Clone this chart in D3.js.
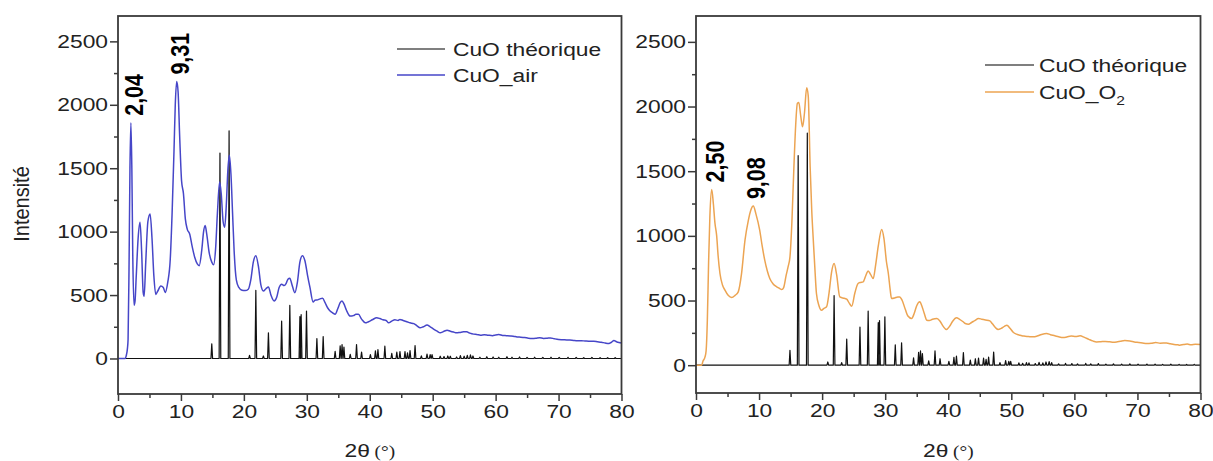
<!DOCTYPE html>
<html><head><meta charset="utf-8">
<script src="https://cdn.jsdelivr.net/npm/d3@7"></script>
<style>body{margin:0;background:#fff}</style>
</head><body>
<svg id="c" width="1213" height="461"></svg>
<script>
// ---------------- DATA ----------------
const xTicks = [0,10,20,30,40,50,60,70,80];
const xMinor = [5,15,25,35,45,55,65,75];
const yTicks = [0,500,1000,1500,2000,2500];
const yMinor = [250,750,1250,1750,2250];

// CuO théorique: peak positions (2θ) and intensities
const theoPos = [14.9,16.2,17.65,20.9,21.9,23.1,23.9,26.0,27.3,28.9,29.1,29.95,31.6,32.6,34.5,35.3,35.6,35.9,36.9,37.9,38.7,40.1,40.9,41.3,42.4,43.5,44.3,44.8,45.6,46.0,46.4,47.2,48.2,49.1,49.6,49.9,51.2,51.8,52.4,52.8,53.8,54.4,55.0,55.5,56.0,56.4,57.5,58.6,59.6,60.5,61.8,62.6,63.8,65.0,66.2,67.5,68.8,70.1,71.5,72.8,74.0,75.3,76.6,77.8,79.0];
const theoInt = [115,1620,1795,25,538,20,202,295,419,330,345,374,157,173,57,100,110,90,33,110,50,30,60,70,97,40,50,55,55,45,62,102,20,35,30,30,18,15,20,18,12,22,18,25,28,20,10,14,12,10,14,10,12,8,10,8,10,8,9,8,7,8,7,6,7];

// CuO_air
const airX = [0,1.1,1.3,1.5,1.6,1.75,1.9,2.05,2.2,2.35,2.55,2.7,2.9,3.2,3.5,3.75,4.0,4.15,4.4,4.75,5.1,5.4,5.7,6.0,6.3,6.8,7.2,7.5,7.9,8.3,8.6,8.9,9.1,9.33,9.55,9.8,10.1,10.4,10.7,11.0,11.4,11.8,12.2,12.6,12.9,13.3,13.6,13.85,14.1,14.5,14.9,15.2,15.5,15.8,16.15,16.4,16.7,16.95,17.2,17.45,17.7,17.95,18.2,18.45,18.8,19.2,19.7,20.2,20.7,21.1,21.5,21.9,22.3,22.7,23.1,23.5,23.9,24.3,24.8,25.2,25.6,26.0,26.4,26.7,27.0,27.3,27.6,28.1,28.5,28.9,29.3,29.7,30.1,30.5,31.0,31.3,31.6,32.1,32.5,32.9,33.3,33.7,34.1,34.5,34.9,35.3,35.6,35.9,36.3,36.9,37.4,37.8,38.2,38.7,39.3,39.8,40.4,41.1,41.6,42.1,42.6,43.0,43.5,44.0,44.5,44.8,45.3,45.9,46.4,47.0,47.5,48.0,48.5,49.1,49.6,50.2,50.7,51.2,51.7,52.3,52.8,53.3,53.8,54.3,54.9,55.4,55.9,56.5,57.0,57.6,58.2,58.8,59.5,60.0,60.5,61.1,61.7,62.3,62.8,63.4,64.0,64.6,65.2,65.8,66.4,67.0,67.6,68.2,68.7,69.3,70.0,70.7,71.3,71.8,72.4,73.0,73.6,74.2,74.8,75.6,76.2,76.8,77.4,78.0,78.4,78.8,79.2,79.6,80];
const airY = [0,0,20,80,150,700,1500,1858,1500,800,420,450,650,950,1074,850,520,490,750,1080,1140,950,650,505,530,572,560,520,600,780,1150,1640,2000,2183,2100,1750,1400,1300,1100,1020,980,880,796,745,731,850,1000,1048,980,830,760,739,860,1150,1391,1300,1080,1034,1200,1480,1602,1450,1150,850,620,560,538,535,546,620,760,810,730,580,532,550,564,500,453,480,560,586,575,590,625,633,590,519,600,760,810,770,660,560,445,460,461,470,475,440,400,374,360,348,390,440,453,430,380,334,338,348,348,310,281,290,305,321,315,305,300,281,295,305,300,308,300,290,281,275,258,242,250,263,250,230,215,202,212,223,215,208,202,205,210,210,200,192,190,184,188,184,180,186,189,182,180,178,176,170,168,165,160,158,160,164,158,160,162,156,150,148,146,145,142,140,140,138,136,136,132,128,122,118,128,142,132,126,123];

// CuO_O2
const o2X = [0,0.9,1.1,1.43,1.6,1.8,2.0,2.2,2.49,2.75,3.0,3.28,3.5,3.8,4.2,4.6,5.1,5.66,6.2,6.7,7.2,7.77,8.3,8.7,9.09,9.5,10.1,10.5,10.9,11.3,11.7,12.2,12.8,13.2,13.6,13.9,14.3,14.6,14.9,15.2,15.5,15.8,16.07,16.3,16.6,16.9,17.2,17.55,17.8,18.1,18.35,18.6,18.85,19.1,19.5,19.9,20.3,20.7,21.1,21.5,21.9,22.3,22.8,23.3,23.9,24.3,24.7,25.2,25.7,26.1,26.5,26.9,27.3,27.7,28.1,28.5,28.9,29.44,29.8,30.2,30.5,30.8,31.0,31.5,32.0,32.3,32.7,33.2,33.6,34.2,34.6,35.0,35.5,35.8,36.2,36.6,37.0,37.5,38.2,38.7,39.2,39.7,40.2,40.7,41.3,41.8,42.3,42.7,43.2,43.7,44.2,44.8,45.3,45.9,46.6,47.0,47.5,47.9,48.4,48.9,49.3,49.8,50.3,50.8,51.4,52.0,52.7,53.5,54.1,54.8,55.6,56.2,56.9,57.5,58.2,58.8,59.5,60.2,60.9,61.6,62.3,62.9,63.5,64.2,64.9,65.6,66.2,66.7,67.3,68.0,68.8,69.5,70.2,70.8,71.5,72.2,72.9,73.6,74.6,75.2,75.8,76.4,76.7,77.3,77.9,78.5,79.2,80];
const o2Y = [0,0,30,64,110,350,800,1150,1359,1250,1100,1000,850,709,620,580,540,523,540,567,700,967,1120,1200,1230,1170,1044,920,812,730,670,630,606,595,585,600,696,760,838,1100,1500,1850,2024,2031,1930,1843,1950,2145,2080,1534,1200,967,750,554,460,425,440,451,560,720,786,700,528,520,510,480,456,560,632,640,644,690,729,700,670,780,920,1049,980,800,709,580,516,520,528,528,500,430,380,361,400,460,490,460,400,348,345,355,361,340,300,276,300,340,366,355,338,322,317,330,345,361,356,350,343,320,290,276,285,300,309,285,255,240,232,225,222,219,225,238,245,236,228,220,214,218,225,222,227,215,200,188,180,182,184,181,178,180,185,190,188,180,176,172,168,170,175,170,172,166,160,158,155,160,163,158,161,160];

const airLabels = ["2,04","9,31"], airLabelX = [2.04,9.31], airLabelY = [1858,2183];
const o2Labels = ["2,50","9,08"], o2LabelX = [2.49,9.09], o2LabelY = [1359,1230];

// --------------- DRAWING ---------------
const svg = d3.select("#c");
const FONT = "'Liberation Sans', Arial, sans-serif";
const SX = 1.2;           // horizontal stretch of the original figure's text
const AXC = "#3a3a3a";
const TXC = "#222";

// theoretical profile points (baseline + narrow sticks)
function theoPoints() {
  const pts = [[0,0]];
  theoPos.forEach((p,i)=>{ pts.push([p-0.13,0],[p,theoInt[i]],[p+0.13,0]); });
  pts.push([80,0]);
  return pts;
}

function stretchedText(parent, x, y, opts) {
  const g = parent.append("g").attr("transform", `translate(${x},${y}) scale(${opts.sx||SX},1)` + (opts.rot?` rotate(${opts.rot})`:""));
  const t = g.append("text").attr("font-family", opts.family||FONT).attr("font-size", opts.size||19)
    .attr("fill", opts.fill||TXC).attr("text-anchor", opts.anchor||"start")
    .attr("font-weight", opts.weight||"normal");
  return t;
}

function panel(cfg) {
  const x = d3.scaleLinear().domain([0,80]).range(cfg.xr);
  const y = d3.scaleLinear().domain(cfg.yd).range(cfg.yr);
  const g = svg.append("g");
  const id = "clip"+cfg.id;
  svg.append("defs").append("clipPath").attr("id", id).append("rect")
    .attr("x", cfg.xr[0]).attr("y", cfg.yr[1])
    .attr("width", cfg.xr[1]-cfg.xr[0]).attr("height", cfg.yr[0]-cfg.yr[1]);
  const plot = g.append("g").attr("clip-path", `url(#${id})`);
  const lineLin = d3.line().x(d=>x(d[0])).y(d=>y(d[1]));
  const lineSm = d3.line().x(d=>x(d[0])).y(d=>y(d[1])).curve(d3.curveMonotoneX);
  plot.append("path").datum(theoPoints()).attr("d", lineLin)
    .attr("fill","none").attr("stroke","#111").attr("stroke-width",1.2).attr("stroke-linejoin","round");
  plot.append("path").datum(d3.zip(cfg.ex, cfg.ey)).attr("d", lineSm)
    .attr("fill","none").attr("stroke",cfg.color).attr("stroke-width",1.5).attr("stroke-linejoin","round");

  // frame
  g.append("rect").attr("x", cfg.xr[0]).attr("y", cfg.yr[1])
    .attr("width", cfg.xr[1]-cfg.xr[0]).attr("height", cfg.yr[0]-cfg.yr[1])
    .attr("fill","none").attr("stroke",AXC).attr("stroke-width",1.8);

  // x axis
  const xa = g.append("g").attr("transform",`translate(0,${cfg.yr[0]})`)
    .call(d3.axisBottom(x).tickValues(xTicks).tickSize(7).tickPadding(4).tickFormat(d3.format("d")));
  g.append("g").attr("transform",`translate(0,${cfg.yr[0]})`)
    .call(d3.axisBottom(x).tickValues(xMinor).tickSize(4).tickFormat(""));
  // y axis
  const ya = g.append("g").attr("transform",`translate(${cfg.xr[0]},0)`)
    .call(d3.axisLeft(y).tickValues(yTicks).tickSize(8).tickPadding(2).tickFormat(d3.format("d")));
  g.append("g").attr("transform",`translate(${cfg.xr[0]},0)`)
    .call(d3.axisLeft(y).tickValues(yMinor).tickSize(4).tickFormat(""));
  g.selectAll(".domain").remove();
  g.selectAll(".tick line").attr("stroke",AXC).attr("stroke-width",1.5);
  g.selectAll(".tick text").attr("font-family",FONT).attr("font-size",19).attr("fill",TXC);
  xa.selectAll(".tick text").attr("transform",`scale(${SX},1)`);
  ya.selectAll(".tick text").attr("x", -10/SX).attr("transform",`scale(${SX},1)`);

  // x title
  const t = stretchedText(g, (cfg.xr[0]+cfg.xr[1])/2, 457, {anchor:"middle"});
  t.append("tspan").attr("font-size",19).text("2θ");
  t.append("tspan").attr("font-family","'Liberation Serif', 'Times New Roman', serif").attr("font-size",16).text(" (°)");

  // legend
  const L = cfg.legend;
  L.names.forEach((nm,i)=>{
    const ly = L.y[i];
    g.append("line").attr("x1",L.x1).attr("x2",L.x2).attr("y1",ly).attr("y2",ly)
      .attr("stroke", i===0 ? "#555" : cfg.color).attr("stroke-width",1.6);
    const tt = stretchedText(g, L.tx, ly+7, {size:19});
    if (nm.sub) {
      tt.append("tspan").text(nm.text);
      tt.append("tspan").attr("font-size",13).attr("dy",6).text(nm.sub);
    } else tt.text(nm.text);
  });

  // peak annotations
  cfg.labels.forEach((lb,i)=>{
    const px = x(cfg.labelX[i]) + 3 + 9, py = y(cfg.labelY[i]) - 7;
    stretchedText(g, px, py, {size:21.5, weight:"bold", rot:-90, fill:"#000"}).text(lb);
  });
  return {x,y};
}

panel({id:"a", xr:[118,621.5], yd:[-280,2700], yr:[394,16], ex:airX, ey:airY, color:"#4646c8",
  legend:{x1:397,x2:445,tx:453,y:[49,75],names:[{text:"CuO théorique"},{text:"CuO_air"}]},
  labels:airLabels, labelX:airLabelX, labelY:airLabelY});
panel({id:"b", xr:[696,1200.5], yd:[-215,2700], yr:[393,16], ex:o2X, ey:o2Y, color:"#eca452",
  legend:{x1:985,x2:1034,tx:1039,y:[65,92],names:[{text:"CuO théorique"},{text:"CuO_O",sub:"2"}]},
  labels:o2Labels, labelX:o2LabelX, labelY:o2LabelY});

// y title
stretchedText(svg, 29, 204, {size:20, anchor:"middle", rot:-90, sx:1.1}).text("Intensité");
</script>
</body></html>
